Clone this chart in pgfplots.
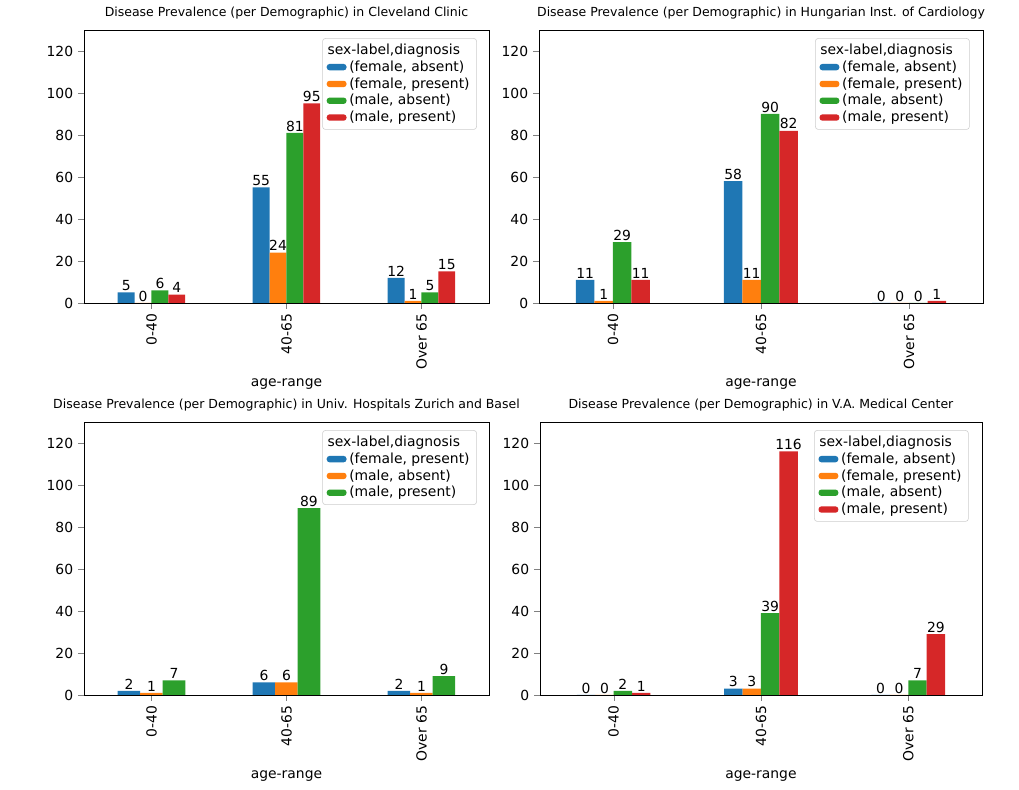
\documentclass[border=0pt]{standalone}
\usepackage{pgfplots}
\pgfplotsset{compat=1.18}
\usepackage{fontspec}
\setmainfont{DejaVu Sans}
\definecolor{c1}{HTML}{1F77B4}
\definecolor{c2}{HTML}{FF7F0E}
\definecolor{c3}{HTML}{2CA02C}
\definecolor{c4}{HTML}{D62728}
\pgfplotsset{
  panel/.style={
    scale only axis, height=196.56pt, ymin=0, ymax=130, xmin=-0.5, xmax=2.5,
    ybar, bar width=0.125,
    xtick={0,1,2}, xticklabels={0-40,40-65,Over 65},
    xticklabel style={rotate=90, anchor=east, font=\fontsize{10}{12}\selectfont},
    yticklabel style={font=\fontsize{10}{12}\selectfont},
    ytick={0,20,...,120},
    /pgf/number format/assume math mode=true,
    xlabel={age-range}, xlabel style={font=\fontsize{10}{12}\selectfont},
    title style={font=\fontsize{9}{11}\selectfont, yshift=-2pt},
    tick align=outside, tick pos=left,
    nodes near coords, every node near coord/.append style={font=\fontsize{10}{12}\selectfont, inner sep=1pt},
    legend pos=north east,
    legend style={font=\fontsize{10}{12}\selectfont, draw=gray!40, rounded corners=2pt, cells={anchor=west}, row sep=-1pt},
    legend image code/.code={\fill[#1] (0cm,-0.08cm) rectangle (0.5cm,0.08cm);},
    every axis plot/.append style={draw=none},
  },
  s1/.style={fill=c1, bar shift=-0.1875},
  s2/.style={fill=c2, bar shift=-0.0625},
  s3/.style={fill=c3, bar shift=0.0625},
  s4/.style={fill=c4, bar shift=0.1875},
}
\begin{document}
\begin{tikzpicture}
\path[use as bounding box] (0,0) rectangle (733.7pt,-568.8pt);
\begin{axis}[panel, at={(60.48pt,-21.6pt)}, anchor=north west, width=291.6pt,
  title={Disease Prevalence (per Demographic) in Cleveland Clinic}]
\addlegendimage{empty legend}\addlegendentry{\hspace{-0.9cm}\quad sex-label,diagnosis}
\addplot[s1] coordinates {(0,5) (1,55) (2,12)};\addlegendentry{(female, absent)}
\addplot[s2] coordinates {(0,0) (1,24) (2,1)};\addlegendentry{(female, present)}
\addplot[s3] coordinates {(0,6) (1,81) (2,5)};\addlegendentry{(male, absent)}
\addplot[s4] coordinates {(0,4) (1,95) (2,15)};\addlegendentry{(male, present)}
\end{axis}
\begin{axis}[panel, at={(388.08pt,-21.6pt)}, anchor=north west, width=319.7pt,
  title={Disease Prevalence (per Demographic) in Hungarian Inst. of Cardiology}]
\addlegendimage{empty legend}\addlegendentry{\hspace{-0.9cm}\quad sex-label,diagnosis}
\addplot[s1] coordinates {(0,11) (1,58) (2,0)};\addlegendentry{(female, absent)}
\addplot[s2] coordinates {(0,1) (1,11) (2,0)};\addlegendentry{(female, present)}
\addplot[s3] coordinates {(0,29) (1,90) (2,0)};\addlegendentry{(male, absent)}
\addplot[s4] coordinates {(0,11) (1,82) (2,1)};\addlegendentry{(male, present)}
\end{axis}
\begin{axis}[panel, at={(60.48pt,-303.84pt)}, anchor=north west, width=291.6pt, bar width=0.1667,
  title={Disease Prevalence (per Demographic) in Univ. Hospitals Zurich and Basel}]
\addlegendimage{empty legend}\addlegendentry{\hspace{-0.9cm}\quad sex-label,diagnosis}
\addplot[fill=c1, bar shift=-0.1667] coordinates {(0,2) (1,6) (2,2)};\addlegendentry{(female, present)}
\addplot[fill=c2, bar shift=0] coordinates {(0,1) (1,6) (2,1)};\addlegendentry{(male, absent)}
\addplot[fill=c3, bar shift=0.1667] coordinates {(0,7) (1,89) (2,9)};\addlegendentry{(male, present)}
\end{axis}
\begin{axis}[panel, at={(388.8pt,-303.84pt)}, anchor=north west, width=318.2pt,
  title={Disease Prevalence (per Demographic) in V.A. Medical Center}]
\addlegendimage{empty legend}\addlegendentry{\hspace{-0.9cm}\quad sex-label,diagnosis}
\addplot[s1] coordinates {(0,0) (1,3) (2,0)};\addlegendentry{(female, absent)}
\addplot[s2] coordinates {(0,0) (1,3) (2,0)};\addlegendentry{(female, present)}
\addplot[s3] coordinates {(0,2) (1,39) (2,7)};\addlegendentry{(male, absent)}
\addplot[s4] coordinates {(0,1) (1,116) (2,29)};\addlegendentry{(male, present)}
\end{axis}
\end{tikzpicture}
\end{document}
